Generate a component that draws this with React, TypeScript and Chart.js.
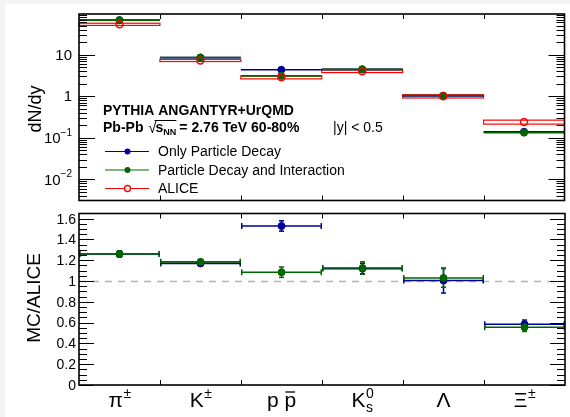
import React, { useEffect, useRef } from 'react';
import { Chart, registerables } from 'chart.js';

Chart.register(...registerables);

// ---------- data ----------
const categories = ['π', 'K', 'p p', 'K', 'Λ', 'Ξ'];
const categorySup = ['±', '±', '', '0', '', '±'];
const categorySub = ['', '', '', 's', '', ''];
const categoryBar = [false, false, true, false, false, false];

const decayYield = [68, 8.5, 4.35, 4.45, 1.02, 0.14];
const interactionYield = [68, 8.6, 3.1, 4.45, 1.04, 0.133];
const aliceYield = [54, 7.3, 2.85, 4.0, 1.0, 0.24];
const aliceSystRel = [0.06, 0.06, 0.08, 0.07, 0.09, 0.11];

const decayRatio = [1.26, 1.17, 1.53, 1.12, 1.005, 0.585];
const decayRatioErr = [0.03, 0.02, 0.05, 0.05, 0.12, 0.04];
const interactionRatio = [1.26, 1.185, 1.085, 1.125, 1.03, 0.555];
const interactionRatioErr = [0.03, 0.02, 0.05, 0.06, 0.09, 0.04];

const logMajorTicks = [0.01, 0.1, 1, 10];
const logTickBase = ['10', '10', '1', '10'];
const logTickExp = ['−2', '−1', '', ''];
const ratioMajorTicks = [0, 0.2, 0.4, 0.6, 0.8, 1, 1.2, 1.4, 1.6];
const ratioTickLabels = ['0', '0.2', '0.4', '0.6', '0.8', '1', '1.2', '1.4', '1.6'];

const seriesNames = ['Only Particle Decay', 'Particle Decay and Interaction', 'ALICE'];
const titleLine1 = 'PYTHIA ANGANTYR+UrQMD';
const rapidityText = '|y| < 0.5';

// ---------- style ----------
const BLUE = '#000099';
const GREEN = '#006600';
const RED = '#ff0000';
const FONT = "'Liberation Sans', Arial, Helvetica, sans-serif";

const stepData = (vals: number[]) =>
  vals.flatMap((v, i) => [
    { x: i, y: v },
    { x: i + 1, y: v },
    { x: i + 1, y: null as any },
  ]);
const centerData = (vals: number[]) => vals.map((v, i) => ({ x: i + 0.5, y: v }));

function seg(ctx: CanvasRenderingContext2D, x1: number, y1: number, x2: number, y2: number) {
  ctx.beginPath();
  ctx.moveTo(x1, y1);
  ctx.lineTo(x2, y2);
  ctx.stroke();
}

function drawFrameAndXTicks(ctx: CanvasRenderingContext2D, a: any, x: any) {
  ctx.save();
  ctx.strokeStyle = '#000';
  ctx.lineWidth = 1;
  for (let i = 1; i < categories.length; i++) {
    const px = Math.round(x.getPixelForValue(i)) + 0.5;
    seg(ctx, px, a.bottom, px, a.bottom - 5);
    seg(ctx, px, a.top, px, a.top + 5);
  }
  ctx.lineWidth = 1.6;
  ctx.strokeRect(a.left, a.top, a.right - a.left, a.bottom - a.top);
  ctx.restore();
}

function drawYTick(ctx: CanvasRenderingContext2D, a: any, py: number, len: number) {
  if (py < a.top - 0.5 || py > a.bottom + 0.5) return;
  const y = Math.round(py) + 0.5;
  seg(ctx, a.left, y, a.left + len, y);
  seg(ctx, a.right, y, a.right - len, y);
}

const lineDs = (vals: number[], color: string, order: number) => ({
  data: stepData(vals),
  borderColor: color,
  borderWidth: 1.6,
  pointRadius: 0,
  spanGaps: false,
  fill: false,
  tension: 0,
  order,
});
const markerDs = (vals: number[], color: string, order: number, open = false) => ({
  data: centerData(vals),
  showLine: false,
  pointRadius: 3.5,
  pointStyle: 'circle',
  pointBorderWidth: open ? 1.5 : 1,
  pointBorderColor: color,
  pointBackgroundColor: open ? 'rgba(0,0,0,0)' : color,
  order,
});

// ---------- top panel plugin ----------
const topPlugin = {
  id: 'topDeco',
  beforeDatasetsDraw(chart: any) {
    const { ctx, scales } = chart;
    const x = scales.x, y = scales.y;
    ctx.save();
    ctx.strokeStyle = RED;
    ctx.lineWidth = 1.2;
    aliceYield.forEach((v, i) => {
      const x0 = x.getPixelForValue(i), x1 = x.getPixelForValue(i + 1);
      const yt = y.getPixelForValue(v * (1 + aliceSystRel[i]));
      const yb = y.getPixelForValue(v * (1 - aliceSystRel[i]));
      ctx.strokeRect(x0, yt, x1 - x0, yb - yt);
    });
    ctx.restore();
  },
  afterDraw(chart: any) {
    const { ctx, chartArea: a, scales } = chart;
    const x = scales.x, y = scales.y;
    ctx.save();
    ctx.strokeStyle = '#000';
    ctx.lineWidth = 1;
    // log ticks
    for (let k = -3; k <= 1; k++) {
      for (let m = 1; m <= 9; m++) {
        const v = m * Math.pow(10, k);
        if (v < y.min || v > y.max) continue;
        drawYTick(ctx, a, y.getPixelForValue(v), m === 1 ? 16 : 8);
      }
    }
    ctx.restore();
    drawFrameAndXTicks(ctx, a, x);

    ctx.save();
    ctx.fillStyle = '#000';
    // y tick labels
    logMajorTicks.forEach((v, i) => {
      const py = y.getPixelForValue(v);
      ctx.font = `15px ${FONT}`;
      const wb = ctx.measureText(logTickBase[i]).width;
      ctx.font = `10px ${FONT}`;
      const we = logTickExp[i] ? ctx.measureText(logTickExp[i]).width : 0;
      const start = a.left - 7 - wb - we;
      ctx.textBaseline = 'middle';
      ctx.textAlign = 'left';
      ctx.font = `15px ${FONT}`;
      ctx.fillText(logTickBase[i], start, py + 1);
      if (logTickExp[i]) {
        ctx.font = `10px ${FONT}`;
        ctx.fillText(logTickExp[i], start + wb, py - 5);
      }
    });
    // axis title
    ctx.save();
    ctx.translate(36, 109);
    ctx.rotate(-Math.PI / 2);
    ctx.textAlign = 'center';
    ctx.textBaseline = 'middle';
    ctx.font = `18px ${FONT}`;
    ctx.fillText('dN/dy', 0, 0);
    ctx.restore();

    // header text
    ctx.textAlign = 'left';
    ctx.textBaseline = 'alphabetic';
    ctx.font = `bold 14px ${FONT}`;
    ctx.fillText(titleLine1, 103, 115);
    const base = 132;
    let cx = 103;
    ctx.fillText('Pb-Pb', cx, base);
    cx += ctx.measureText('Pb-Pb ').width + 1;
    ctx.font = `15px ${FONT}`;
    ctx.fillText('√', cx, base + 1);
    cx += ctx.measureText('√').width - 1;
    const barStart = cx;
    ctx.font = `bold 14px ${FONT}`;
    ctx.fillText('s', cx, base);
    cx += ctx.measureText('s').width;
    ctx.font = `bold 9px ${FONT}`;
    ctx.fillText('NN', cx, base + 3);
    cx += ctx.measureText('NN').width;
    ctx.strokeStyle = '#000';
    ctx.lineWidth = 1;
    seg(ctx, barStart - 1, base - 11.5, cx, base - 11.5);
    cx += 3;
    ctx.font = `bold 14px ${FONT}`;
    ctx.fillText('= 2.76 TeV 60-80%', cx, base);
    ctx.font = `14px ${FONT}`;
    ctx.fillText(rapidityText, 333, base);

    // legend
    const colors = [BLUE, GREEN, RED];
    const ys = [151.5, 170, 188.5];
    seriesNames.forEach((name, i) => {
      const ly = ys[i];
      ctx.strokeStyle = colors[i];
      ctx.lineWidth = 1;
      seg(ctx, 105, ly, 149, ly);
      ctx.beginPath();
      ctx.arc(127.5, ly, 3, 0, Math.PI * 2);
      if (i < 2) {
        ctx.fillStyle = colors[i];
        ctx.fill();
      } else {
        ctx.fillStyle = '#fff';
        ctx.fill();
        ctx.lineWidth = 1.3;
        ctx.stroke();
      }
      ctx.fillStyle = '#000';
      ctx.font = `14px ${FONT}`;
      ctx.textBaseline = 'middle';
      ctx.fillText(name, 158, ly + 1);
    });
    ctx.restore();
  },
};

// ---------- bottom panel plugin ----------
function drawRatioErrors(ctx: CanvasRenderingContext2D, x: any, y: any, vals: number[], errs: number[], color: string) {
  ctx.strokeStyle = color;
  ctx.lineWidth = 1.5;
  vals.forEach((v, i) => {
    const xl = x.getPixelForValue(i), xr = x.getPixelForValue(i + 1), xc = x.getPixelForValue(i + 0.5);
    const py = y.getPixelForValue(v);
    const pt = y.getPixelForValue(v + errs[i]);
    const pb = y.getPixelForValue(v - errs[i]);
    seg(ctx, xl + 0.75, py - 3, xl + 0.75, py + 3);
    seg(ctx, xr - 0.75, py - 3, xr - 0.75, py + 3);
    seg(ctx, xc, pt, xc, pb);
    seg(ctx, xc - 2.5, pt, xc + 2.5, pt);
    seg(ctx, xc - 2.5, pb, xc + 2.5, pb);
  });
}

const bottomPlugin = {
  id: 'bottomDeco',
  beforeDatasetsDraw(chart: any) {
    const { ctx, chartArea: a, scales } = chart;
    const x = scales.x, y = scales.y;
    ctx.save();
    ctx.strokeStyle = '#b4b4b4';
    ctx.lineWidth = 1.5;
    ctx.setLineDash([7, 6]);
    const p1 = Math.round(y.getPixelForValue(1)) + 0.5;
    seg(ctx, a.left, p1, a.right, p1);
    ctx.setLineDash([]);
    drawRatioErrors(ctx, x, y, decayRatio, decayRatioErr, BLUE);
    drawRatioErrors(ctx, x, y, interactionRatio, interactionRatioErr, GREEN);
    ctx.restore();
  },
  afterDraw(chart: any) {
    const { ctx, chartArea: a, scales } = chart;
    const x = scales.x, y = scales.y;
    ctx.save();
    ctx.strokeStyle = '#000';
    ctx.lineWidth = 1;
    for (let j = 0; j <= 40; j++) {
      const v = j * 0.05;
      if (v > y.max) break;
      drawYTick(ctx, a, y.getPixelForValue(v), j % 4 === 0 ? 15 : 8);
    }
    ctx.restore();
    drawFrameAndXTicks(ctx, a, x);

    ctx.save();
    ctx.fillStyle = '#000';
    ctx.font = `14px ${FONT}`;
    ctx.textAlign = 'right';
    ctx.textBaseline = 'middle';
    ratioMajorTicks.forEach((v, i) => {
      ctx.fillText(ratioTickLabels[i], a.left - 3, y.getPixelForValue(v) + 1);
    });

    ctx.save();
    ctx.translate(35, 92);
    ctx.rotate(-Math.PI / 2);
    ctx.textAlign = 'center';
    ctx.textBaseline = 'middle';
    ctx.font = `19px ${FONT}`;
    ctx.fillText('MC/ALICE', 0, 0);
    ctx.restore();

    // category labels
    ctx.textAlign = 'left';
    ctx.textBaseline = 'alphabetic';
    const baseY = a.bottom + 22;
    categories.forEach((lab, i) => {
      const xc = x.getPixelForValue(i + 0.5);
      ctx.font = `21px ${FONT}`;
      const wb = ctx.measureText(lab).width;
      ctx.font = `14px ${FONT}`;
      const ws = Math.max(
        categorySup[i] ? ctx.measureText(categorySup[i]).width : 0,
        categorySub[i] ? ctx.measureText(categorySub[i]).width : 0
      );
      const start = xc - (wb + ws) / 2;
      ctx.font = `21px ${FONT}`;
      ctx.fillText(lab, start, baseY);
      if (categoryBar[i]) {
        const w0 = ctx.measureText(lab.slice(0, -1)).width;
        ctx.strokeStyle = '#000';
        ctx.lineWidth = 1.3;
        seg(ctx, start + w0 + 1, baseY - 15, start + wb - 1, baseY - 15);
      }
      ctx.font = `14px ${FONT}`;
      if (categorySup[i]) ctx.fillText(categorySup[i], start + wb + 0.5, baseY - 9);
      if (categorySub[i]) ctx.fillText(categorySub[i], start + wb + 0.5, baseY + 5);
    });
    ctx.restore();
  },
};

function baseOptions(padding: any, yScale: any) {
  return {
    animation: false as const,
    responsive: false,
    events: [] as any[],
    layout: { padding },
    scales: {
      x: { type: 'linear' as const, min: 0, max: 6, display: false },
      y: yScale,
    },
    plugins: { legend: { display: false }, tooltip: { enabled: false }, title: { display: false } },
  };
}

export default function App() {
  const topRef = useRef<HTMLCanvasElement>(null);
  const botRef = useRef<HTMLCanvasElement>(null);

  useEffect(() => {
    const top = new Chart(topRef.current as HTMLCanvasElement, {
      type: 'line',
      data: {
        datasets: [
          lineDs(decayYield, BLUE, 6) as any,
          lineDs(interactionYield, GREEN, 5) as any,
          markerDs(decayYield, BLUE, 4) as any,
          markerDs(interactionYield, GREEN, 3) as any,
          markerDs(aliceYield, RED, 1, true) as any,
        ],
      },
      options: baseOptions(
        { left: 79, right: 5, top: 14, bottom: 2 },
        { type: 'logarithmic', min: 0.0031, max: 95.5, display: false }
      ) as any,
      plugins: [topPlugin],
    });
    const bottom = new Chart(botRef.current as HTMLCanvasElement, {
      type: 'line',
      data: {
        datasets: [
          lineDs(decayRatio, BLUE, 6) as any,
          lineDs(interactionRatio, GREEN, 5) as any,
          markerDs(decayRatio, BLUE, 4) as any,
          markerDs(interactionRatio, GREEN, 3) as any,
        ],
      },
      options: baseOptions(
        { left: 79, right: 5, top: 7.5, bottom: 32 },
        { type: 'linear', min: 0, max: 1.65, display: false }
      ) as any,
      plugins: [bottomPlugin],
    });
    return () => {
      top.destroy();
      bottom.destroy();
    };
  }, []);

  return (
    <div
      style={{
        position: 'fixed',
        left: 0,
        top: 0,
        width: 570,
        height: 417,
        background: '#f4f4f4',
        overflow: 'hidden',
      }}
    >
      <div style={{ position: 'absolute', left: 5, top: 4, width: 565, height: 413, background: '#ffffff' }} />
      <canvas ref={topRef} width={570} height={206} style={{ position: 'absolute', left: 0, top: 0 }} />
      <canvas ref={botRef} width={570} height={211} style={{ position: 'absolute', left: 0, top: 206 }} />
    </div>
  );
}
